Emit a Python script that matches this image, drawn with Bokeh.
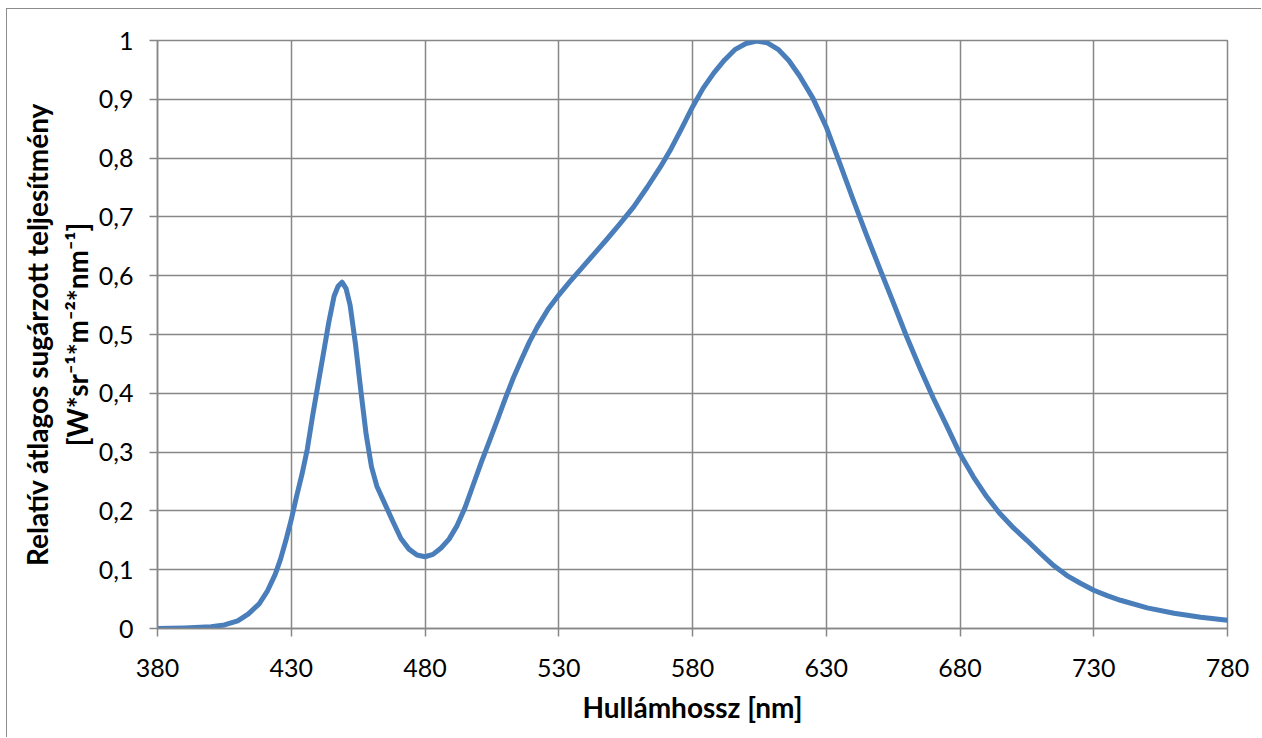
from bokeh.plotting import figure
from bokeh.models import FixedTicker, CustomJSTickFormatter, Range1d, Title
from bokeh.embed import file_html
from bokeh.resources import INLINE

# --- data ---
wavelength = [380, 390, 400, 405, 410, 414, 418, 421, 424, 426, 428, 430, 432, 434,
              436, 438, 440, 442, 444, 446, 447.5, 449, 450.5, 452, 454, 456, 458,
              460, 462, 465, 468, 471, 474, 477, 480, 483, 486, 489, 492, 495, 498,
              501, 504, 507, 510, 513, 516, 519, 522, 526, 530, 534, 538, 543, 548,
              553, 558, 563, 568, 572, 576, 580, 584, 588, 592, 596, 600, 604, 608,
              612, 616, 620, 625, 630, 635, 640, 645, 650, 655, 660, 665, 670, 675,
              680, 685, 690, 695, 700, 705, 710, 715, 720, 725, 730, 735, 740, 750,
              760, 770, 780]
rel_power = [0.000, 0.001, 0.003, 0.006, 0.013, 0.025, 0.042, 0.063, 0.092, 0.118,
             0.150, 0.185, 0.225, 0.262, 0.305, 0.362, 0.415, 0.467, 0.520, 0.565,
             0.582, 0.589, 0.578, 0.550, 0.484, 0.405, 0.330, 0.275, 0.242, 0.212,
             0.182, 0.153, 0.135, 0.125, 0.122, 0.126, 0.137, 0.152, 0.175, 0.206,
             0.244, 0.282, 0.318, 0.354, 0.391, 0.426, 0.457, 0.487, 0.513, 0.543,
             0.567, 0.589, 0.610, 0.636, 0.662, 0.689, 0.717, 0.750, 0.785, 0.816,
             0.851, 0.887, 0.919, 0.945, 0.967, 0.985, 0.995, 0.999, 0.996, 0.985,
             0.966, 0.940, 0.902, 0.853, 0.792, 0.730, 0.670, 0.612, 0.555, 0.497,
             0.443, 0.392, 0.345, 0.297, 0.258, 0.224, 0.195, 0.171, 0.150, 0.128,
             0.107, 0.090, 0.077, 0.065, 0.056, 0.048, 0.035, 0.026, 0.019, 0.014]
x_ticks = [380, 430, 480, 530, 580, 630, 680, 730, 780]
y_ticks = [0, 0.1, 0.2, 0.3, 0.4, 0.5, 0.6, 0.7, 0.8, 0.9, 1.0]
x_title = "Hullámhossz [nm]"
y_title_line1 = "Relatív átlagos sugárzott teljesítmény"
y_title_line2 = "[W*sr⁻¹*m⁻²*nm⁻¹]"

GRID = "#878787"
LINE = "#4a7ebb"
FONT = "Lato"

p = figure(width=1255, height=729,
           x_range=Range1d(380, 780), y_range=Range1d(0, 1),
           output_backend="svg", toolbar_location=None,
           min_border_left=150, min_border_top=31,
           min_border_right=35, min_border_bottom=110)

p.line(wavelength, rel_power, line_color=LINE, line_width=5,
       line_join="round", line_cap="round")

p.outline_line_color = GRID
p.outline_line_width = 1.5
p.background_fill_color = "white"
p.border_fill_color = "white"

for g in (p.xgrid, p.ygrid):
    g.grid_line_color = GRID
    g.grid_line_width = 1.5

p.xaxis.ticker = FixedTicker(ticks=x_ticks)
p.yaxis.ticker = FixedTicker(ticks=y_ticks)
p.yaxis.formatter = CustomJSTickFormatter(code="""
    if (Math.abs(tick - Math.round(tick)) < 1e-9) { return Math.round(tick).toString(); }
    return tick.toFixed(1).replace('.', ',');
""")

for ax in (p.xaxis, p.yaxis):
    ax.axis_line_color = GRID
    ax.axis_line_width = 1.5
    ax.major_tick_line_color = GRID
    ax.major_tick_line_width = 1.5
    ax.major_tick_out = 8
    ax.major_tick_in = 0
    ax.minor_tick_line_color = None
    ax.major_label_text_font = FONT
    ax.major_label_text_font_size = "25px"
    ax.major_label_text_color = "black"
    ax.axis_label_text_font = FONT
    ax.axis_label_text_font_size = "28px"
    ax.axis_label_text_font_style = "bold"
    ax.axis_label_text_color = "black"

p.xaxis.axis_label = x_title
p.xaxis.major_label_standoff = 22
p.yaxis.major_label_standoff = 16
p.xaxis.axis_label_standoff = 10

# y-axis title: two vertical lines, the unit line closest to the axis
for txt, so in [(y_title_line2, 4), (y_title_line1, 4)]:
    p.add_layout(Title(text=txt, align="center", standoff=so, text_font=FONT,
                       text_font_size="28px", text_font_style="bold",
                       text_color="black"), "left")

p.styles = {"margin-left": "6px", "margin-top": "8px",
            "border-left": "1px solid #8c8c8c", "border-top": "1px solid #8c8c8c"}

with open("out.html", "w") as f:
    f.write(file_html(p, INLINE))
